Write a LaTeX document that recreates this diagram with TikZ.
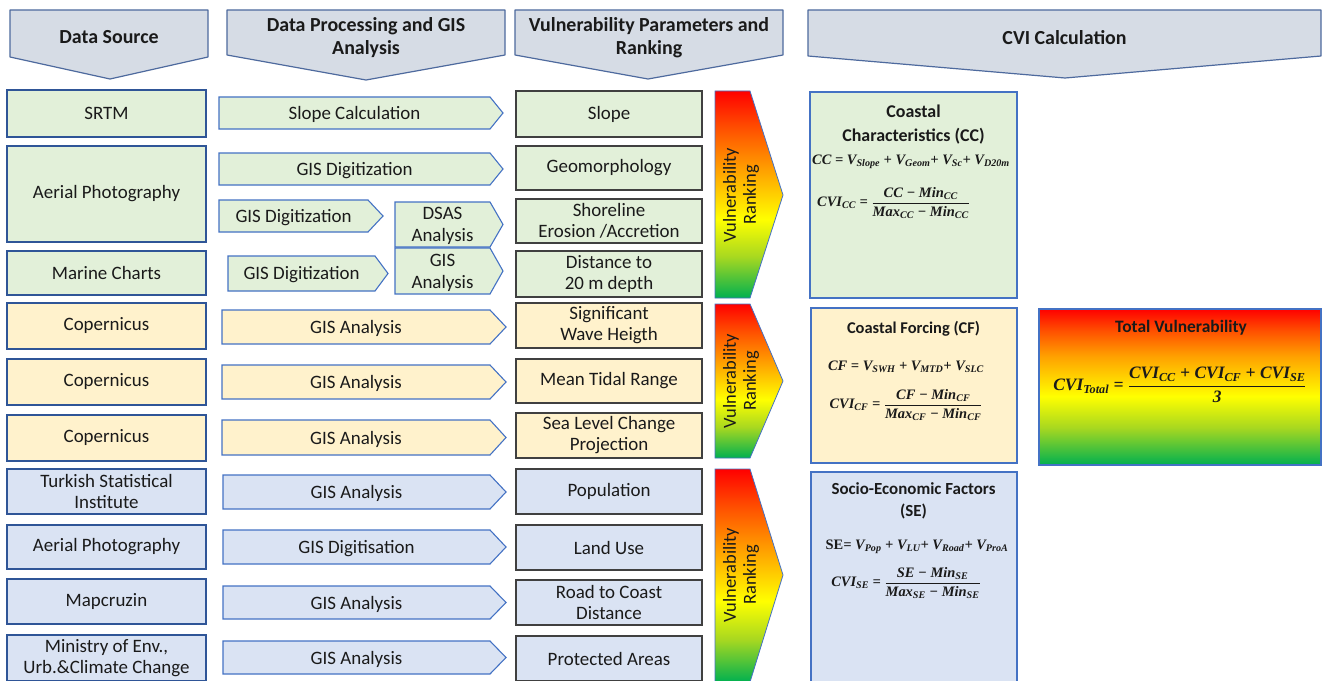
\documentclass[tikz,border=0pt]{standalone}
\usepackage{amsmath}
\usepackage{fontspec}
\setmainfont{Carlito}
\newfontfamily\fmlfont{Liberation Serif}
\definecolor{hfill}{HTML}{D6DCE5}
\definecolor{hdraw}{HTML}{4E6A9E}
\definecolor{gfill}{HTML}{E2F0D9}
\definecolor{ofill}{HTML}{FFF2CC}
\definecolor{bfill}{HTML}{DAE3F3}
\definecolor{srcdraw}{HTML}{2F5597}
\definecolor{arrdraw}{HTML}{4472C4}
\definecolor{pardraw}{HTML}{404040}
\definecolor{txt}{HTML}{1A1A1A}
\definecolor{vred}{HTML}{FF0000}
\definecolor{vredor}{HTML}{FF5000}
\definecolor{vorange}{HTML}{FFA000}
\definecolor{vyellow}{HTML}{FFFF00}
\definecolor{vlime}{HTML}{A8D820}
\definecolor{vgreen}{HTML}{00B050}
\pgfdeclareverticalshading{vrank}{100bp}{color(0bp)=(vgreen); color(25bp)=(vgreen); color(35bp)=(vlime); color(44bp)=(vyellow); color(56bp)=(vorange); color(66bp)=(vredor); color(75bp)=(vred); color(100bp)=(vred)}
\pgfdeclareverticalshading{vtotal}{100bp}{color(0bp)=(vgreen); color(25bp)=(vgreen); color(37bp)=(vlime); color(47bp)=(vyellow); color(60bp)=(vorange); color(68bp)=(vredor); color(75bp)=(vred); color(100bp)=(vred)}
\newcommand\procarrow[8]{%
  \draw[parrow, fill=#7] (#2,#3) -- (#4,#3) -- (#6,{(#3+#5)/2}) -- (#4,#5) -- (#2,#5) -- cycle;
  \node[ptext] (#1) at ({(#2+#4)/2},{(#3+#5)/2+1.5}) {#8};}
\newcommand\hdrshape[8]{%
  \draw[hdr] (#2,#4) -- (#3,#4) -- (#3,#5) -- (#6,#7) -- (#2,#5) -- cycle;
  \node[htext] (#1) at ({(#2+#3)/2},37.5) {#8};}
\newcommand\rankarrow[5]{%
  \path[rank] (715,#2) -- (750,#2) -- (783,#4) -- (750,#3) -- (715,#3) -- cycle;
  \node[rtext] (#1) at (741,#5) {Vulnerability\\Ranking};}
\newcommand\sbs[1]{\textsubscript{#1}}
\newcommand\ffrac[2]{$\dfrac{\text{#1}}{\text{#2}}$}
\begin{document}
\begin{tikzpicture}[x=1bp,y=-1bp,
  every node/.style={text=txt},
  hdr/.style={draw=hdraw, fill=hfill, line width=1.2bp, line join=round},
  htext/.style={font=\fontsize{20}{23}\selectfont\bfseries, align=center},
  src/.style={draw=srcdraw, line width=1.3bp, inner sep=1bp, align=center,
     font=\fontsize{19}{21}\selectfont, minimum width=199bp},
  parrow/.style={draw=arrdraw, line width=1.1bp, line join=miter},
  ptext/.style={font=\fontsize{19}{22}\selectfont, align=center, inner sep=0pt},
  par/.style={draw=pardraw, line width=1.3bp, inner sep=1bp, align=center,
     font=\fontsize{19}{21}\selectfont, minimum width=186bp},
  rank/.style={draw=arrdraw, line width=0.8bp, shading=vrank},
  rtext/.style={rotate=90, align=center, font=\fontsize{18.5}{20}\selectfont, inner sep=0pt},
  cvi/.style={draw=arrdraw, line width=1.3bp, inner sep=0pt},
  ttl/.style={align=center, font=\fontsize{18}{24}\selectfont\bfseries, inner sep=0pt},
  fml/.style={font=\fontsize{14.5}{17}\selectfont\fmlfont\bfseries\itshape, inner sep=0pt}]
\useasboundingbox[fill=white] (0,0) rectangle (1322,680);

% headers
\hdrshape{h1}{10}{208}{10}{57}{110}{79}{Data Source}
\hdrshape{h2}{227}{505}{10}{55}{366}{80}{Data Processing and GIS\\Analysis}
\hdrshape{h3}{515}{783}{10}{55}{648}{79}{Vulnerability Parameters and\\Ranking}
\hdrshape{h4}{808}{1321}{10}{56}{1065}{78}{CVI Calculation}

% data sources
\node[src, fill=gfill, minimum height=47bp] (s1) at (106.5,113.5) {SRTM};
\node[src, fill=gfill, minimum height=96bp] (s2) at (106.5,194) {Aerial Photography};
\node[src, fill=gfill, minimum height=44bp] (s3) at (106.5,273) {Marine Charts};
\node[src, fill=ofill, minimum height=46bp] (s4) at (106.5,326) {Copernicus};
\node[src, fill=ofill, minimum height=46bp] (s5) at (106.5,382) {Copernicus};
\node[src, fill=ofill, minimum height=46bp] (s6) at (106.5,438) {Copernicus};
\node[src, fill=bfill, minimum height=45bp] (s7) at (106.5,491.5) {Turkish Statistical\\Institute};
\node[src, fill=bfill, minimum height=44bp] (s8) at (106.5,547) {Aerial Photography};
\node[src, fill=bfill, minimum height=45bp] (s9) at (106.5,601.5) {Mapcruzin};
\node[src, fill=bfill, minimum height=46bp] (s10) at (106.5,658) {Ministry of Env.,\\Urb.\&Climate Change};

% processing arrows
\procarrow{p1}{219}{97}{490}{129}{503}{gfill}{Slope Calculation}
\procarrow{p2}{219}{153}{490}{185}{503}{gfill}{GIS Digitization}
\procarrow{p3}{219}{200}{368}{232}{383}{gfill}{GIS Digitization}
\procarrow{p4}{395}{202}{490}{247}{503}{gfill}{DSAS\\Analysis}
\procarrow{p5}{228}{256}{375}{291}{388}{gfill}{GIS Digitization}
\procarrow{p6}{395}{248}{490}{294}{503}{gfill}{GIS\\Analysis}
\procarrow{p7}{222}{310}{490}{344}{506}{ofill}{GIS Analysis}
\procarrow{p8}{222}{365}{490}{399}{506}{ofill}{GIS Analysis}
\procarrow{p9}{222}{420}{490}{455}{506}{ofill}{GIS Analysis}
\procarrow{p10}{223}{475}{490}{509}{506}{bfill}{GIS Analysis}
\procarrow{p11}{223}{530}{490}{564}{506}{bfill}{GIS Digitisation}
\procarrow{p12}{223}{586}{490}{619}{506}{bfill}{GIS Analysis}
\procarrow{p13}{223}{641}{490}{674}{506}{bfill}{GIS Analysis}

% parameters
\node[par, fill=gfill, minimum height=46bp] (v1) at (609,114) {Slope};
\node[par, fill=gfill, minimum height=44bp] (v2) at (609,168) {Geomorphology};
\node[par, fill=gfill, minimum height=44bp] (v3) at (609,221) {Shoreline\\Erosion /Accretion};
\node[par, fill=gfill, minimum height=46bp] (v4) at (609,274) {Distance to\\20 m depth};
\node[par, fill=ofill, minimum height=45bp] (v5) at (609,325.5) {Significant\\Wave Heigth};
\node[par, fill=ofill, minimum height=44bp] (v6) at (609,381) {Mean Tidal Range};
\node[par, fill=ofill, minimum height=45bp] (v7) at (609,435.5) {Sea Level Change\\Projection};
\node[par, fill=bfill, minimum height=45bp] (v8) at (609,491.5) {Population};
\node[par, fill=bfill, minimum height=45bp] (v9) at (609,547.5) {Land Use};
\node[par, fill=bfill, minimum height=45bp] (v10) at (609,602.5) {Road to Coast\\Distance};
\node[par, fill=bfill, minimum height=45bp] (v11) at (609,658.5) {Protected Areas};

% ranking arrows
\rankarrow{r1}{91}{298}{195}{195}
\rankarrow{r2}{304}{458}{381}{381}
\rankarrow{r3}{469}{682}{575}{575}

% CVI boxes
\node[cvi, fill=gfill, minimum width=207bp, minimum height=206bp] (cc) at (913.5,195) {};
\node[ttl] (cct) at (913.5,125) {Coastal\\Characteristics (CC)};
\node[fml] (ccf) at (911,162) {CC = V\sbs{Slope} + V\sbs{Geom}+ V\sbs{Sc}+ V\sbs{D20m}};
\node[fml, anchor=west] (ccv) at (817,203) {CVI\sbs{CC} = \ffrac{CC − Min\sbs{CC}}{Max\sbs{CC} − Min\sbs{CC}}};

\node[cvi, fill=ofill, minimum width=206bp, minimum height=155bp] (cf) at (914,385.5) {};
\node[ttl, font=\fontsize{16.5}{20}\selectfont\bfseries] (cft) at (913.5,329) {Coastal Forcing (CF)};
\node[fml] (cff) at (906,367) {CF = V\sbs{SWH} + V\sbs{MTD}+ V\sbs{SLC}};
\node[fml] (cfv) at (906,405) {CVI\sbs{CF} = \ffrac{CF − Min\sbs{CF}}{Max\sbs{CF} − Min\sbs{CF}}};

\node[cvi, fill=bfill, minimum width=206bp, minimum height=212bp] (se) at (914,578) {};
\node[ttl, font=\fontsize{17}{22}\selectfont\bfseries] (set) at (913.5,500.5) {Socio-Economic Factors\\(SE)};
\node[fml] (sef) at (917,547) {{\upshape SE}= V\sbs{Pop} + V\sbs{LU}+ V\sbs{Road}+ V\sbs{ProA}};
\node[fml] (sev) at (906,583) {CVI\sbs{SE} = \ffrac{SE − Min\sbs{SE}}{Max\sbs{SE} − Min\sbs{SE}}};

% total
\path[cvi, shading=vtotal] (1039,309) rectangle (1321,465);
\node[inner sep=0pt, minimum width=282bp, minimum height=156bp] (tv) at (1180,387) {};
\node[ttl, font=\fontsize{17.5}{20}\selectfont\bfseries] (tvt) at (1181,327.5) {Total Vulnerability};
\node[fml, font=\fontsize{17.5}{20}\selectfont\fmlfont\bfseries\itshape] (tvf) at (1180,385) {CVI\sbs{Total} = \ffrac{CVI\sbs{CC} + CVI\sbs{CF} + CVI\sbs{SE}}{3}};
\end{tikzpicture}
\end{document}
